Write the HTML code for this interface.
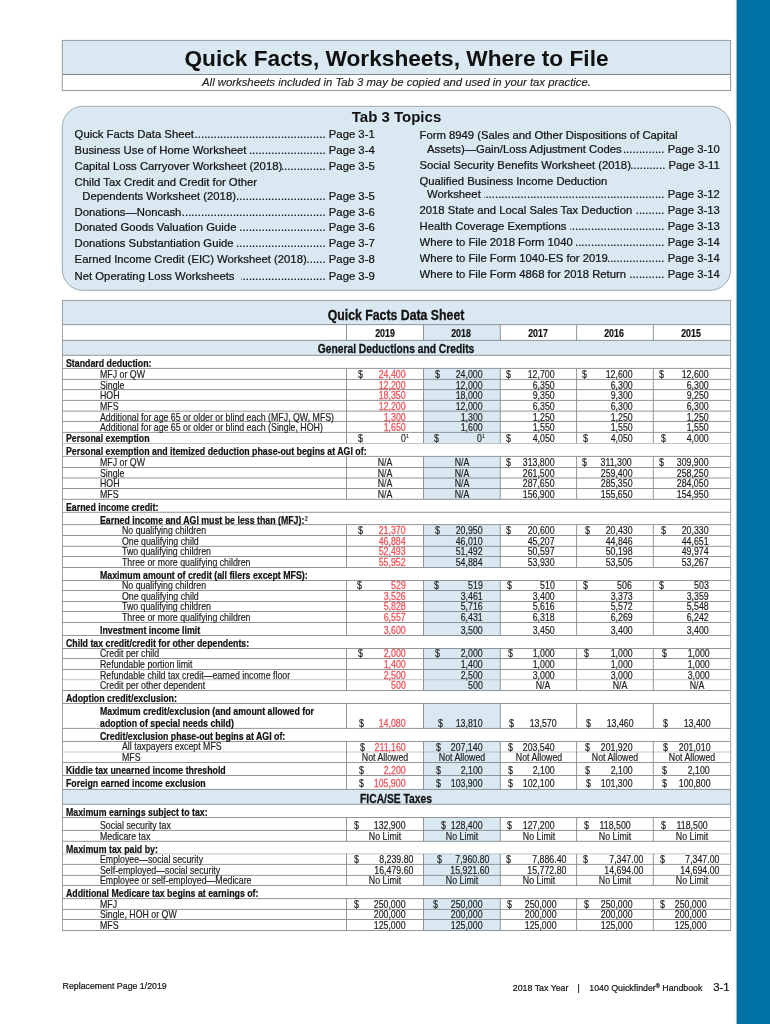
<!DOCTYPE html>
<html lang="en">
<head>
<meta charset="utf-8">
<title>Quick Facts, Worksheets, Where to File</title>
<style>
html,body{margin:0;padding:0;background:#fff;overflow:hidden;}
body{width:770px;height:1024px;position:relative;overflow:hidden;font-family:"Liberation Sans",sans-serif;color:#1a1a1a;}
svg.bg{position:absolute;left:0;top:0;}
.layer{position:absolute;left:0;top:0;width:770px;height:1024px;overflow:hidden;will-change:transform;}
.t{position:absolute;white-space:nowrap;-webkit-text-stroke:0.18px;font-size:10.67px;line-height:12px;height:12px;transform:scaleX(0.825);}
.t.l{transform-origin:0 0;}
.t.r{transform-origin:100% 0;}
.t.c{transform-origin:50% 0;width:300px;text-align:center;}
.t.b{font-weight:bold;color:#111;-webkit-text-stroke:0.22px;transform:scaleX(0.825);}
.t.h1{-webkit-text-stroke:0.3px;color:#111;font-size:14.92px;line-height:17px;height:17px;}
.t.h2{-webkit-text-stroke:0.28px;color:#111;font-size:12.48px;line-height:14px;height:14px;}
.t sup{font-size:6.5px;font-weight:normal;line-height:0;vertical-align:baseline;position:relative;top:-3.4px;margin-left:0.5px;}
.t.r sup{position:absolute;left:100%;top:auto;bottom:7.8px;font-size:5.4px;}
.title{position:absolute;left:62px;top:44px;width:669px;text-align:center;font-weight:bold;font-size:22.68px;line-height:28px;color:#111;}
.sub{-webkit-text-stroke:0.15px;position:absolute;left:62px;top:75.3px;width:669px;text-align:center;font-style:italic;font-size:11.32px;line-height:14px;color:#222;}
.tab{position:absolute;left:62px;top:107.6px;width:669px;text-align:center;font-weight:bold;font-size:15px;line-height:18px;color:#111;}
.tp{-webkit-text-stroke:0.22px;color:#111;position:absolute;display:flex;white-space:nowrap;font-size:11.3px;line-height:13px;height:13px;overflow:hidden;}
.tp .tt{flex:0 0 auto;white-space:pre;}
.tp .dots{flex:1 1 0;min-width:0;overflow:hidden;direction:rtl;text-align:right;letter-spacing:0.06px;}
.tp .pg{flex:0 0 auto;}
.ft{-webkit-text-stroke:0.2px;color:#111;position:absolute;white-space:nowrap;font-size:8.8px;line-height:11px;}
</style>
</head>
<body>
<svg class="bg" width="770" height="1024" viewBox="0 0 770 1024">
<rect x="62.3" y="40.4" width="668.3" height="34.1" fill="#d9e8f1"/>
<rect x="62.3" y="40.4" width="668.3" height="50.1" fill="none" stroke="#979b9d" stroke-width="1"/>
<line x1="62.3" y1="74.5" x2="730.6" y2="74.5" stroke="#7f888c" stroke-width="1"/>
<rect x="62.3" y="106.3" width="668.3" height="184.0" rx="20.5" ry="20.5" fill="#d9e8f1" stroke="#8a979f" stroke-width="0.8"/>
<rect x="736.7" y="0" width="34" height="1024" fill="#0073a6"/>
<line x1="736.4" y1="0" x2="736.4" y2="1024" stroke="#8f9ba2" stroke-width="0.6"/>
<rect x="62.50" y="300.40" width="668.10" height="24.20" fill="#d9e8f1"/>
<rect x="423.50" y="324.60" width="76.80" height="15.80" fill="#d9e8f1"/>
<rect x="62.50" y="340.40" width="668.10" height="14.90" fill="#d9e8f1"/>
<rect x="423.50" y="368.40" width="76.80" height="11.00" fill="#d9e8f1"/>
<rect x="423.50" y="379.40" width="76.80" height="10.20" fill="#d9e8f1"/>
<rect x="423.50" y="389.60" width="76.80" height="10.80" fill="#d9e8f1"/>
<rect x="423.50" y="400.40" width="76.80" height="10.70" fill="#d9e8f1"/>
<rect x="423.50" y="411.10" width="76.80" height="10.40" fill="#d9e8f1"/>
<rect x="423.50" y="421.50" width="76.80" height="10.90" fill="#d9e8f1"/>
<rect x="423.50" y="432.40" width="76.80" height="11.10" fill="#d9e8f1"/>
<rect x="423.50" y="456.40" width="76.80" height="11.10" fill="#d9e8f1"/>
<rect x="423.50" y="467.50" width="76.80" height="10.50" fill="#d9e8f1"/>
<rect x="423.50" y="478.00" width="76.80" height="10.50" fill="#d9e8f1"/>
<rect x="423.50" y="488.50" width="76.80" height="10.80" fill="#d9e8f1"/>
<rect x="423.50" y="524.60" width="76.80" height="10.90" fill="#d9e8f1"/>
<rect x="423.50" y="535.50" width="76.80" height="10.80" fill="#d9e8f1"/>
<rect x="423.50" y="546.30" width="76.80" height="10.20" fill="#d9e8f1"/>
<rect x="423.50" y="556.50" width="76.80" height="11.00" fill="#d9e8f1"/>
<rect x="423.50" y="580.50" width="76.80" height="10.00" fill="#d9e8f1"/>
<rect x="423.50" y="590.50" width="76.80" height="11.00" fill="#d9e8f1"/>
<rect x="423.50" y="601.50" width="76.80" height="10.00" fill="#d9e8f1"/>
<rect x="423.50" y="611.50" width="76.80" height="11.00" fill="#d9e8f1"/>
<rect x="423.50" y="622.50" width="76.80" height="13.00" fill="#d9e8f1"/>
<rect x="423.50" y="648.50" width="76.80" height="10.00" fill="#d9e8f1"/>
<rect x="423.50" y="658.50" width="76.80" height="11.00" fill="#d9e8f1"/>
<rect x="423.50" y="669.50" width="76.80" height="10.20" fill="#d9e8f1"/>
<rect x="423.50" y="679.70" width="76.80" height="10.80" fill="#d9e8f1"/>
<rect x="423.50" y="703.50" width="76.80" height="24.90" fill="#d9e8f1"/>
<rect x="423.50" y="741.50" width="76.80" height="10.50" fill="#d9e8f1"/>
<rect x="423.50" y="752.00" width="76.80" height="10.50" fill="#d9e8f1"/>
<rect x="423.50" y="762.50" width="76.80" height="13.00" fill="#d9e8f1"/>
<rect x="423.50" y="775.50" width="76.80" height="13.90" fill="#d9e8f1"/>
<rect x="62.50" y="789.40" width="668.10" height="14.90" fill="#d9e8f1"/>
<rect x="423.50" y="817.50" width="76.80" height="12.90" fill="#d9e8f1"/>
<rect x="423.50" y="830.40" width="76.80" height="10.90" fill="#d9e8f1"/>
<rect x="423.50" y="853.90" width="76.80" height="10.50" fill="#d9e8f1"/>
<rect x="423.50" y="864.40" width="76.80" height="11.00" fill="#d9e8f1"/>
<rect x="423.50" y="875.40" width="76.80" height="10.10" fill="#d9e8f1"/>
<rect x="423.50" y="898.60" width="76.80" height="10.80" fill="#d9e8f1"/>
<rect x="423.50" y="909.40" width="76.80" height="10.10" fill="#d9e8f1"/>
<rect x="423.50" y="919.50" width="76.80" height="11.00" fill="#d9e8f1"/>
<line x1="62.50" y1="324.60" x2="730.60" y2="324.60" stroke="#7d8386" stroke-width="0.85"/>
<line x1="346.50" y1="324.60" x2="346.50" y2="340.40" stroke="#7d8386" stroke-width="0.85"/>
<line x1="423.50" y1="324.60" x2="423.50" y2="340.40" stroke="#7d8386" stroke-width="0.85"/>
<line x1="500.30" y1="324.60" x2="500.30" y2="340.40" stroke="#7d8386" stroke-width="0.85"/>
<line x1="576.60" y1="324.60" x2="576.60" y2="340.40" stroke="#7d8386" stroke-width="0.85"/>
<line x1="653.30" y1="324.60" x2="653.30" y2="340.40" stroke="#7d8386" stroke-width="0.85"/>
<line x1="62.50" y1="340.40" x2="730.60" y2="340.40" stroke="#7d8386" stroke-width="0.85"/>
<line x1="62.50" y1="355.30" x2="730.60" y2="355.30" stroke="#7d8386" stroke-width="0.85"/>
<line x1="62.50" y1="368.40" x2="730.60" y2="368.40" stroke="#7d8386" stroke-width="0.85"/>
<line x1="346.50" y1="368.40" x2="346.50" y2="379.40" stroke="#7d8386" stroke-width="0.85"/>
<line x1="423.50" y1="368.40" x2="423.50" y2="379.40" stroke="#7d8386" stroke-width="0.85"/>
<line x1="500.30" y1="368.40" x2="500.30" y2="379.40" stroke="#7d8386" stroke-width="0.85"/>
<line x1="576.60" y1="368.40" x2="576.60" y2="379.40" stroke="#7d8386" stroke-width="0.85"/>
<line x1="653.30" y1="368.40" x2="653.30" y2="379.40" stroke="#7d8386" stroke-width="0.85"/>
<line x1="62.50" y1="379.40" x2="730.60" y2="379.40" stroke="#7d8386" stroke-width="0.85"/>
<line x1="346.50" y1="379.40" x2="346.50" y2="389.60" stroke="#7d8386" stroke-width="0.85"/>
<line x1="423.50" y1="379.40" x2="423.50" y2="389.60" stroke="#7d8386" stroke-width="0.85"/>
<line x1="500.30" y1="379.40" x2="500.30" y2="389.60" stroke="#7d8386" stroke-width="0.85"/>
<line x1="576.60" y1="379.40" x2="576.60" y2="389.60" stroke="#7d8386" stroke-width="0.85"/>
<line x1="653.30" y1="379.40" x2="653.30" y2="389.60" stroke="#7d8386" stroke-width="0.85"/>
<line x1="62.50" y1="389.60" x2="730.60" y2="389.60" stroke="#7d8386" stroke-width="0.85"/>
<line x1="346.50" y1="389.60" x2="346.50" y2="400.40" stroke="#7d8386" stroke-width="0.85"/>
<line x1="423.50" y1="389.60" x2="423.50" y2="400.40" stroke="#7d8386" stroke-width="0.85"/>
<line x1="500.30" y1="389.60" x2="500.30" y2="400.40" stroke="#7d8386" stroke-width="0.85"/>
<line x1="576.60" y1="389.60" x2="576.60" y2="400.40" stroke="#7d8386" stroke-width="0.85"/>
<line x1="653.30" y1="389.60" x2="653.30" y2="400.40" stroke="#7d8386" stroke-width="0.85"/>
<line x1="62.50" y1="400.40" x2="730.60" y2="400.40" stroke="#7d8386" stroke-width="0.85"/>
<line x1="346.50" y1="400.40" x2="346.50" y2="411.10" stroke="#7d8386" stroke-width="0.85"/>
<line x1="423.50" y1="400.40" x2="423.50" y2="411.10" stroke="#7d8386" stroke-width="0.85"/>
<line x1="500.30" y1="400.40" x2="500.30" y2="411.10" stroke="#7d8386" stroke-width="0.85"/>
<line x1="576.60" y1="400.40" x2="576.60" y2="411.10" stroke="#7d8386" stroke-width="0.85"/>
<line x1="653.30" y1="400.40" x2="653.30" y2="411.10" stroke="#7d8386" stroke-width="0.85"/>
<line x1="62.50" y1="411.10" x2="730.60" y2="411.10" stroke="#7d8386" stroke-width="0.85"/>
<line x1="346.50" y1="411.10" x2="346.50" y2="421.50" stroke="#7d8386" stroke-width="0.85"/>
<line x1="423.50" y1="411.10" x2="423.50" y2="421.50" stroke="#7d8386" stroke-width="0.85"/>
<line x1="500.30" y1="411.10" x2="500.30" y2="421.50" stroke="#7d8386" stroke-width="0.85"/>
<line x1="576.60" y1="411.10" x2="576.60" y2="421.50" stroke="#7d8386" stroke-width="0.85"/>
<line x1="653.30" y1="411.10" x2="653.30" y2="421.50" stroke="#7d8386" stroke-width="0.85"/>
<line x1="62.50" y1="421.50" x2="730.60" y2="421.50" stroke="#7d8386" stroke-width="0.85"/>
<line x1="346.50" y1="421.50" x2="346.50" y2="432.40" stroke="#7d8386" stroke-width="0.85"/>
<line x1="423.50" y1="421.50" x2="423.50" y2="432.40" stroke="#7d8386" stroke-width="0.85"/>
<line x1="500.30" y1="421.50" x2="500.30" y2="432.40" stroke="#7d8386" stroke-width="0.85"/>
<line x1="576.60" y1="421.50" x2="576.60" y2="432.40" stroke="#7d8386" stroke-width="0.85"/>
<line x1="653.30" y1="421.50" x2="653.30" y2="432.40" stroke="#7d8386" stroke-width="0.85"/>
<line x1="62.50" y1="432.40" x2="730.60" y2="432.40" stroke="#7d8386" stroke-width="0.85"/>
<line x1="346.50" y1="432.40" x2="346.50" y2="443.50" stroke="#7d8386" stroke-width="0.85"/>
<line x1="423.50" y1="432.40" x2="423.50" y2="443.50" stroke="#7d8386" stroke-width="0.85"/>
<line x1="500.30" y1="432.40" x2="500.30" y2="443.50" stroke="#7d8386" stroke-width="0.85"/>
<line x1="576.60" y1="432.40" x2="576.60" y2="443.50" stroke="#7d8386" stroke-width="0.85"/>
<line x1="653.30" y1="432.40" x2="653.30" y2="443.50" stroke="#7d8386" stroke-width="0.85"/>
<line x1="62.50" y1="443.50" x2="730.60" y2="443.50" stroke="#b4babd" stroke-width="0.85"/>
<line x1="62.50" y1="456.40" x2="730.60" y2="456.40" stroke="#7d8386" stroke-width="0.85"/>
<line x1="346.50" y1="456.40" x2="346.50" y2="467.50" stroke="#7d8386" stroke-width="0.85"/>
<line x1="423.50" y1="456.40" x2="423.50" y2="467.50" stroke="#7d8386" stroke-width="0.85"/>
<line x1="500.30" y1="456.40" x2="500.30" y2="467.50" stroke="#7d8386" stroke-width="0.85"/>
<line x1="576.60" y1="456.40" x2="576.60" y2="467.50" stroke="#7d8386" stroke-width="0.85"/>
<line x1="653.30" y1="456.40" x2="653.30" y2="467.50" stroke="#7d8386" stroke-width="0.85"/>
<line x1="62.50" y1="467.50" x2="730.60" y2="467.50" stroke="#7d8386" stroke-width="0.85"/>
<line x1="346.50" y1="467.50" x2="346.50" y2="478.00" stroke="#7d8386" stroke-width="0.85"/>
<line x1="423.50" y1="467.50" x2="423.50" y2="478.00" stroke="#7d8386" stroke-width="0.85"/>
<line x1="500.30" y1="467.50" x2="500.30" y2="478.00" stroke="#7d8386" stroke-width="0.85"/>
<line x1="576.60" y1="467.50" x2="576.60" y2="478.00" stroke="#7d8386" stroke-width="0.85"/>
<line x1="653.30" y1="467.50" x2="653.30" y2="478.00" stroke="#7d8386" stroke-width="0.85"/>
<line x1="62.50" y1="478.00" x2="730.60" y2="478.00" stroke="#7d8386" stroke-width="0.85"/>
<line x1="346.50" y1="478.00" x2="346.50" y2="488.50" stroke="#7d8386" stroke-width="0.85"/>
<line x1="423.50" y1="478.00" x2="423.50" y2="488.50" stroke="#7d8386" stroke-width="0.85"/>
<line x1="500.30" y1="478.00" x2="500.30" y2="488.50" stroke="#7d8386" stroke-width="0.85"/>
<line x1="576.60" y1="478.00" x2="576.60" y2="488.50" stroke="#7d8386" stroke-width="0.85"/>
<line x1="653.30" y1="478.00" x2="653.30" y2="488.50" stroke="#7d8386" stroke-width="0.85"/>
<line x1="62.50" y1="488.50" x2="730.60" y2="488.50" stroke="#7d8386" stroke-width="0.85"/>
<line x1="346.50" y1="488.50" x2="346.50" y2="499.30" stroke="#7d8386" stroke-width="0.85"/>
<line x1="423.50" y1="488.50" x2="423.50" y2="499.30" stroke="#7d8386" stroke-width="0.85"/>
<line x1="500.30" y1="488.50" x2="500.30" y2="499.30" stroke="#7d8386" stroke-width="0.85"/>
<line x1="576.60" y1="488.50" x2="576.60" y2="499.30" stroke="#7d8386" stroke-width="0.85"/>
<line x1="653.30" y1="488.50" x2="653.30" y2="499.30" stroke="#7d8386" stroke-width="0.85"/>
<line x1="62.50" y1="499.30" x2="730.60" y2="499.30" stroke="#7d8386" stroke-width="0.85"/>
<line x1="62.50" y1="512.30" x2="730.60" y2="512.30" stroke="#7d8386" stroke-width="0.85"/>
<line x1="62.50" y1="524.60" x2="730.60" y2="524.60" stroke="#7d8386" stroke-width="0.85"/>
<line x1="346.50" y1="524.60" x2="346.50" y2="535.50" stroke="#7d8386" stroke-width="0.85"/>
<line x1="423.50" y1="524.60" x2="423.50" y2="535.50" stroke="#7d8386" stroke-width="0.85"/>
<line x1="500.30" y1="524.60" x2="500.30" y2="535.50" stroke="#7d8386" stroke-width="0.85"/>
<line x1="576.60" y1="524.60" x2="576.60" y2="535.50" stroke="#7d8386" stroke-width="0.85"/>
<line x1="653.30" y1="524.60" x2="653.30" y2="535.50" stroke="#7d8386" stroke-width="0.85"/>
<line x1="62.50" y1="535.50" x2="730.60" y2="535.50" stroke="#7d8386" stroke-width="0.85"/>
<line x1="346.50" y1="535.50" x2="346.50" y2="546.30" stroke="#7d8386" stroke-width="0.85"/>
<line x1="423.50" y1="535.50" x2="423.50" y2="546.30" stroke="#7d8386" stroke-width="0.85"/>
<line x1="500.30" y1="535.50" x2="500.30" y2="546.30" stroke="#7d8386" stroke-width="0.85"/>
<line x1="576.60" y1="535.50" x2="576.60" y2="546.30" stroke="#7d8386" stroke-width="0.85"/>
<line x1="653.30" y1="535.50" x2="653.30" y2="546.30" stroke="#7d8386" stroke-width="0.85"/>
<line x1="62.50" y1="546.30" x2="730.60" y2="546.30" stroke="#7d8386" stroke-width="0.85"/>
<line x1="346.50" y1="546.30" x2="346.50" y2="556.50" stroke="#7d8386" stroke-width="0.85"/>
<line x1="423.50" y1="546.30" x2="423.50" y2="556.50" stroke="#7d8386" stroke-width="0.85"/>
<line x1="500.30" y1="546.30" x2="500.30" y2="556.50" stroke="#7d8386" stroke-width="0.85"/>
<line x1="576.60" y1="546.30" x2="576.60" y2="556.50" stroke="#7d8386" stroke-width="0.85"/>
<line x1="653.30" y1="546.30" x2="653.30" y2="556.50" stroke="#7d8386" stroke-width="0.85"/>
<line x1="62.50" y1="556.50" x2="730.60" y2="556.50" stroke="#7d8386" stroke-width="0.85"/>
<line x1="346.50" y1="556.50" x2="346.50" y2="567.50" stroke="#7d8386" stroke-width="0.85"/>
<line x1="423.50" y1="556.50" x2="423.50" y2="567.50" stroke="#7d8386" stroke-width="0.85"/>
<line x1="500.30" y1="556.50" x2="500.30" y2="567.50" stroke="#7d8386" stroke-width="0.85"/>
<line x1="576.60" y1="556.50" x2="576.60" y2="567.50" stroke="#7d8386" stroke-width="0.85"/>
<line x1="653.30" y1="556.50" x2="653.30" y2="567.50" stroke="#7d8386" stroke-width="0.85"/>
<line x1="62.50" y1="567.50" x2="730.60" y2="567.50" stroke="#7d8386" stroke-width="0.85"/>
<line x1="62.50" y1="580.50" x2="730.60" y2="580.50" stroke="#7d8386" stroke-width="0.85"/>
<line x1="346.50" y1="580.50" x2="346.50" y2="590.50" stroke="#7d8386" stroke-width="0.85"/>
<line x1="423.50" y1="580.50" x2="423.50" y2="590.50" stroke="#7d8386" stroke-width="0.85"/>
<line x1="500.30" y1="580.50" x2="500.30" y2="590.50" stroke="#7d8386" stroke-width="0.85"/>
<line x1="576.60" y1="580.50" x2="576.60" y2="590.50" stroke="#7d8386" stroke-width="0.85"/>
<line x1="653.30" y1="580.50" x2="653.30" y2="590.50" stroke="#7d8386" stroke-width="0.85"/>
<line x1="62.50" y1="590.50" x2="730.60" y2="590.50" stroke="#7d8386" stroke-width="0.85"/>
<line x1="346.50" y1="590.50" x2="346.50" y2="601.50" stroke="#7d8386" stroke-width="0.85"/>
<line x1="423.50" y1="590.50" x2="423.50" y2="601.50" stroke="#7d8386" stroke-width="0.85"/>
<line x1="500.30" y1="590.50" x2="500.30" y2="601.50" stroke="#7d8386" stroke-width="0.85"/>
<line x1="576.60" y1="590.50" x2="576.60" y2="601.50" stroke="#7d8386" stroke-width="0.85"/>
<line x1="653.30" y1="590.50" x2="653.30" y2="601.50" stroke="#7d8386" stroke-width="0.85"/>
<line x1="62.50" y1="601.50" x2="730.60" y2="601.50" stroke="#7d8386" stroke-width="0.85"/>
<line x1="346.50" y1="601.50" x2="346.50" y2="611.50" stroke="#7d8386" stroke-width="0.85"/>
<line x1="423.50" y1="601.50" x2="423.50" y2="611.50" stroke="#7d8386" stroke-width="0.85"/>
<line x1="500.30" y1="601.50" x2="500.30" y2="611.50" stroke="#7d8386" stroke-width="0.85"/>
<line x1="576.60" y1="601.50" x2="576.60" y2="611.50" stroke="#7d8386" stroke-width="0.85"/>
<line x1="653.30" y1="601.50" x2="653.30" y2="611.50" stroke="#7d8386" stroke-width="0.85"/>
<line x1="62.50" y1="611.50" x2="730.60" y2="611.50" stroke="#7d8386" stroke-width="0.85"/>
<line x1="346.50" y1="611.50" x2="346.50" y2="622.50" stroke="#7d8386" stroke-width="0.85"/>
<line x1="423.50" y1="611.50" x2="423.50" y2="622.50" stroke="#7d8386" stroke-width="0.85"/>
<line x1="500.30" y1="611.50" x2="500.30" y2="622.50" stroke="#7d8386" stroke-width="0.85"/>
<line x1="576.60" y1="611.50" x2="576.60" y2="622.50" stroke="#7d8386" stroke-width="0.85"/>
<line x1="653.30" y1="611.50" x2="653.30" y2="622.50" stroke="#7d8386" stroke-width="0.85"/>
<line x1="62.50" y1="622.50" x2="730.60" y2="622.50" stroke="#7d8386" stroke-width="0.85"/>
<line x1="346.50" y1="622.50" x2="346.50" y2="635.50" stroke="#7d8386" stroke-width="0.85"/>
<line x1="423.50" y1="622.50" x2="423.50" y2="635.50" stroke="#7d8386" stroke-width="0.85"/>
<line x1="500.30" y1="622.50" x2="500.30" y2="635.50" stroke="#7d8386" stroke-width="0.85"/>
<line x1="576.60" y1="622.50" x2="576.60" y2="635.50" stroke="#7d8386" stroke-width="0.85"/>
<line x1="653.30" y1="622.50" x2="653.30" y2="635.50" stroke="#7d8386" stroke-width="0.85"/>
<line x1="62.50" y1="635.50" x2="730.60" y2="635.50" stroke="#7d8386" stroke-width="0.85"/>
<line x1="62.50" y1="648.50" x2="730.60" y2="648.50" stroke="#7d8386" stroke-width="0.85"/>
<line x1="346.50" y1="648.50" x2="346.50" y2="658.50" stroke="#7d8386" stroke-width="0.85"/>
<line x1="423.50" y1="648.50" x2="423.50" y2="658.50" stroke="#7d8386" stroke-width="0.85"/>
<line x1="500.30" y1="648.50" x2="500.30" y2="658.50" stroke="#7d8386" stroke-width="0.85"/>
<line x1="576.60" y1="648.50" x2="576.60" y2="658.50" stroke="#7d8386" stroke-width="0.85"/>
<line x1="653.30" y1="648.50" x2="653.30" y2="658.50" stroke="#7d8386" stroke-width="0.85"/>
<line x1="62.50" y1="658.50" x2="730.60" y2="658.50" stroke="#7d8386" stroke-width="0.85"/>
<line x1="346.50" y1="658.50" x2="346.50" y2="669.50" stroke="#7d8386" stroke-width="0.85"/>
<line x1="423.50" y1="658.50" x2="423.50" y2="669.50" stroke="#7d8386" stroke-width="0.85"/>
<line x1="500.30" y1="658.50" x2="500.30" y2="669.50" stroke="#7d8386" stroke-width="0.85"/>
<line x1="576.60" y1="658.50" x2="576.60" y2="669.50" stroke="#7d8386" stroke-width="0.85"/>
<line x1="653.30" y1="658.50" x2="653.30" y2="669.50" stroke="#7d8386" stroke-width="0.85"/>
<line x1="62.50" y1="669.50" x2="730.60" y2="669.50" stroke="#7d8386" stroke-width="0.85"/>
<line x1="346.50" y1="669.50" x2="346.50" y2="679.70" stroke="#7d8386" stroke-width="0.85"/>
<line x1="423.50" y1="669.50" x2="423.50" y2="679.70" stroke="#7d8386" stroke-width="0.85"/>
<line x1="500.30" y1="669.50" x2="500.30" y2="679.70" stroke="#7d8386" stroke-width="0.85"/>
<line x1="576.60" y1="669.50" x2="576.60" y2="679.70" stroke="#7d8386" stroke-width="0.85"/>
<line x1="653.30" y1="669.50" x2="653.30" y2="679.70" stroke="#7d8386" stroke-width="0.85"/>
<line x1="62.50" y1="679.70" x2="730.60" y2="679.70" stroke="#b4babd" stroke-width="0.85"/>
<line x1="346.50" y1="679.70" x2="346.50" y2="690.50" stroke="#7d8386" stroke-width="0.85"/>
<line x1="423.50" y1="679.70" x2="423.50" y2="690.50" stroke="#7d8386" stroke-width="0.85"/>
<line x1="500.30" y1="679.70" x2="500.30" y2="690.50" stroke="#7d8386" stroke-width="0.85"/>
<line x1="576.60" y1="679.70" x2="576.60" y2="690.50" stroke="#7d8386" stroke-width="0.85"/>
<line x1="653.30" y1="679.70" x2="653.30" y2="690.50" stroke="#7d8386" stroke-width="0.85"/>
<line x1="62.50" y1="690.50" x2="730.60" y2="690.50" stroke="#7d8386" stroke-width="0.85"/>
<line x1="62.50" y1="703.50" x2="730.60" y2="703.50" stroke="#7d8386" stroke-width="0.85"/>
<line x1="346.50" y1="703.50" x2="346.50" y2="728.40" stroke="#7d8386" stroke-width="0.85"/>
<line x1="423.50" y1="703.50" x2="423.50" y2="728.40" stroke="#7d8386" stroke-width="0.85"/>
<line x1="500.30" y1="703.50" x2="500.30" y2="728.40" stroke="#7d8386" stroke-width="0.85"/>
<line x1="576.60" y1="703.50" x2="576.60" y2="728.40" stroke="#7d8386" stroke-width="0.85"/>
<line x1="653.30" y1="703.50" x2="653.30" y2="728.40" stroke="#7d8386" stroke-width="0.85"/>
<line x1="62.50" y1="728.40" x2="730.60" y2="728.40" stroke="#7d8386" stroke-width="0.85"/>
<line x1="62.50" y1="741.50" x2="730.60" y2="741.50" stroke="#7d8386" stroke-width="0.85"/>
<line x1="346.50" y1="741.50" x2="346.50" y2="752.00" stroke="#7d8386" stroke-width="0.85"/>
<line x1="423.50" y1="741.50" x2="423.50" y2="752.00" stroke="#7d8386" stroke-width="0.85"/>
<line x1="500.30" y1="741.50" x2="500.30" y2="752.00" stroke="#7d8386" stroke-width="0.85"/>
<line x1="576.60" y1="741.50" x2="576.60" y2="752.00" stroke="#7d8386" stroke-width="0.85"/>
<line x1="653.30" y1="741.50" x2="653.30" y2="752.00" stroke="#7d8386" stroke-width="0.85"/>
<line x1="62.50" y1="752.00" x2="730.60" y2="752.00" stroke="#b4babd" stroke-width="0.85"/>
<line x1="346.50" y1="752.00" x2="346.50" y2="762.50" stroke="#7d8386" stroke-width="0.85"/>
<line x1="423.50" y1="752.00" x2="423.50" y2="762.50" stroke="#7d8386" stroke-width="0.85"/>
<line x1="500.30" y1="752.00" x2="500.30" y2="762.50" stroke="#7d8386" stroke-width="0.85"/>
<line x1="576.60" y1="752.00" x2="576.60" y2="762.50" stroke="#7d8386" stroke-width="0.85"/>
<line x1="653.30" y1="752.00" x2="653.30" y2="762.50" stroke="#7d8386" stroke-width="0.85"/>
<line x1="62.50" y1="762.50" x2="730.60" y2="762.50" stroke="#7d8386" stroke-width="0.85"/>
<line x1="346.50" y1="762.50" x2="346.50" y2="775.50" stroke="#7d8386" stroke-width="0.85"/>
<line x1="423.50" y1="762.50" x2="423.50" y2="775.50" stroke="#7d8386" stroke-width="0.85"/>
<line x1="500.30" y1="762.50" x2="500.30" y2="775.50" stroke="#7d8386" stroke-width="0.85"/>
<line x1="576.60" y1="762.50" x2="576.60" y2="775.50" stroke="#7d8386" stroke-width="0.85"/>
<line x1="653.30" y1="762.50" x2="653.30" y2="775.50" stroke="#7d8386" stroke-width="0.85"/>
<line x1="62.50" y1="775.50" x2="730.60" y2="775.50" stroke="#7d8386" stroke-width="0.85"/>
<line x1="346.50" y1="775.50" x2="346.50" y2="789.40" stroke="#7d8386" stroke-width="0.85"/>
<line x1="423.50" y1="775.50" x2="423.50" y2="789.40" stroke="#7d8386" stroke-width="0.85"/>
<line x1="500.30" y1="775.50" x2="500.30" y2="789.40" stroke="#7d8386" stroke-width="0.85"/>
<line x1="576.60" y1="775.50" x2="576.60" y2="789.40" stroke="#7d8386" stroke-width="0.85"/>
<line x1="653.30" y1="775.50" x2="653.30" y2="789.40" stroke="#7d8386" stroke-width="0.85"/>
<line x1="62.50" y1="789.40" x2="730.60" y2="789.40" stroke="#7d8386" stroke-width="0.85"/>
<line x1="62.50" y1="804.30" x2="730.60" y2="804.30" stroke="#7d8386" stroke-width="0.85"/>
<line x1="62.50" y1="817.50" x2="730.60" y2="817.50" stroke="#7d8386" stroke-width="0.85"/>
<line x1="346.50" y1="817.50" x2="346.50" y2="830.40" stroke="#7d8386" stroke-width="0.85"/>
<line x1="423.50" y1="817.50" x2="423.50" y2="830.40" stroke="#7d8386" stroke-width="0.85"/>
<line x1="500.30" y1="817.50" x2="500.30" y2="830.40" stroke="#7d8386" stroke-width="0.85"/>
<line x1="576.60" y1="817.50" x2="576.60" y2="830.40" stroke="#7d8386" stroke-width="0.85"/>
<line x1="653.30" y1="817.50" x2="653.30" y2="830.40" stroke="#7d8386" stroke-width="0.85"/>
<line x1="62.50" y1="830.40" x2="730.60" y2="830.40" stroke="#7d8386" stroke-width="0.85"/>
<line x1="346.50" y1="830.40" x2="346.50" y2="841.30" stroke="#7d8386" stroke-width="0.85"/>
<line x1="423.50" y1="830.40" x2="423.50" y2="841.30" stroke="#7d8386" stroke-width="0.85"/>
<line x1="500.30" y1="830.40" x2="500.30" y2="841.30" stroke="#7d8386" stroke-width="0.85"/>
<line x1="576.60" y1="830.40" x2="576.60" y2="841.30" stroke="#7d8386" stroke-width="0.85"/>
<line x1="653.30" y1="830.40" x2="653.30" y2="841.30" stroke="#7d8386" stroke-width="0.85"/>
<line x1="62.50" y1="841.30" x2="730.60" y2="841.30" stroke="#7d8386" stroke-width="0.85"/>
<line x1="62.50" y1="853.90" x2="730.60" y2="853.90" stroke="#b4babd" stroke-width="0.85"/>
<line x1="346.50" y1="853.90" x2="346.50" y2="864.40" stroke="#7d8386" stroke-width="0.85"/>
<line x1="423.50" y1="853.90" x2="423.50" y2="864.40" stroke="#7d8386" stroke-width="0.85"/>
<line x1="500.30" y1="853.90" x2="500.30" y2="864.40" stroke="#7d8386" stroke-width="0.85"/>
<line x1="576.60" y1="853.90" x2="576.60" y2="864.40" stroke="#7d8386" stroke-width="0.85"/>
<line x1="653.30" y1="853.90" x2="653.30" y2="864.40" stroke="#7d8386" stroke-width="0.85"/>
<line x1="62.50" y1="864.40" x2="730.60" y2="864.40" stroke="#7d8386" stroke-width="0.85"/>
<line x1="346.50" y1="864.40" x2="346.50" y2="875.40" stroke="#7d8386" stroke-width="0.85"/>
<line x1="423.50" y1="864.40" x2="423.50" y2="875.40" stroke="#7d8386" stroke-width="0.85"/>
<line x1="500.30" y1="864.40" x2="500.30" y2="875.40" stroke="#7d8386" stroke-width="0.85"/>
<line x1="576.60" y1="864.40" x2="576.60" y2="875.40" stroke="#7d8386" stroke-width="0.85"/>
<line x1="653.30" y1="864.40" x2="653.30" y2="875.40" stroke="#7d8386" stroke-width="0.85"/>
<line x1="62.50" y1="875.40" x2="730.60" y2="875.40" stroke="#7d8386" stroke-width="0.85"/>
<line x1="346.50" y1="875.40" x2="346.50" y2="885.50" stroke="#7d8386" stroke-width="0.85"/>
<line x1="423.50" y1="875.40" x2="423.50" y2="885.50" stroke="#7d8386" stroke-width="0.85"/>
<line x1="500.30" y1="875.40" x2="500.30" y2="885.50" stroke="#7d8386" stroke-width="0.85"/>
<line x1="576.60" y1="875.40" x2="576.60" y2="885.50" stroke="#7d8386" stroke-width="0.85"/>
<line x1="653.30" y1="875.40" x2="653.30" y2="885.50" stroke="#7d8386" stroke-width="0.85"/>
<line x1="62.50" y1="885.50" x2="730.60" y2="885.50" stroke="#7d8386" stroke-width="0.85"/>
<line x1="62.50" y1="898.60" x2="730.60" y2="898.60" stroke="#7d8386" stroke-width="0.85"/>
<line x1="346.50" y1="898.60" x2="346.50" y2="909.40" stroke="#7d8386" stroke-width="0.85"/>
<line x1="423.50" y1="898.60" x2="423.50" y2="909.40" stroke="#7d8386" stroke-width="0.85"/>
<line x1="500.30" y1="898.60" x2="500.30" y2="909.40" stroke="#7d8386" stroke-width="0.85"/>
<line x1="576.60" y1="898.60" x2="576.60" y2="909.40" stroke="#7d8386" stroke-width="0.85"/>
<line x1="653.30" y1="898.60" x2="653.30" y2="909.40" stroke="#7d8386" stroke-width="0.85"/>
<line x1="62.50" y1="909.40" x2="730.60" y2="909.40" stroke="#7d8386" stroke-width="0.85"/>
<line x1="346.50" y1="909.40" x2="346.50" y2="919.50" stroke="#7d8386" stroke-width="0.85"/>
<line x1="423.50" y1="909.40" x2="423.50" y2="919.50" stroke="#7d8386" stroke-width="0.85"/>
<line x1="500.30" y1="909.40" x2="500.30" y2="919.50" stroke="#7d8386" stroke-width="0.85"/>
<line x1="576.60" y1="909.40" x2="576.60" y2="919.50" stroke="#7d8386" stroke-width="0.85"/>
<line x1="653.30" y1="909.40" x2="653.30" y2="919.50" stroke="#7d8386" stroke-width="0.85"/>
<line x1="62.50" y1="919.50" x2="730.60" y2="919.50" stroke="#7d8386" stroke-width="0.85"/>
<line x1="346.50" y1="919.50" x2="346.50" y2="930.50" stroke="#7d8386" stroke-width="0.85"/>
<line x1="423.50" y1="919.50" x2="423.50" y2="930.50" stroke="#7d8386" stroke-width="0.85"/>
<line x1="500.30" y1="919.50" x2="500.30" y2="930.50" stroke="#7d8386" stroke-width="0.85"/>
<line x1="576.60" y1="919.50" x2="576.60" y2="930.50" stroke="#7d8386" stroke-width="0.85"/>
<line x1="653.30" y1="919.50" x2="653.30" y2="930.50" stroke="#7d8386" stroke-width="0.85"/>
<line x1="62.50" y1="930.50" x2="730.60" y2="930.50" stroke="#7d8386" stroke-width="0.85"/>
<line x1="62.50" y1="300.40" x2="730.60" y2="300.40" stroke="#8f9497" stroke-width="0.85"/>
<line x1="62.50" y1="299.90" x2="62.50" y2="931.00" stroke="#8f9497" stroke-width="0.85"/>
<line x1="730.60" y1="299.90" x2="730.60" y2="931.00" stroke="#8f9497" stroke-width="0.85"/>
</svg>
<div class="layer">
<div class="title">Quick Facts, Worksheets, Where to File</div>
<div class="sub">All worksheets included in Tab 3 may be copied and used in your tax practice.</div>
<div class="tab">Tab 3 Topics</div>
<div class="tp" style="left:74.60px;top:128.00px;width:300.10px"><span class="tt">Quick Facts Data Sheet</span><span class="dots">..........................................................................................</span><span class="pg">&nbsp;Page 3-1</span></div>
<div class="tp" style="left:74.60px;top:144.00px;width:300.10px"><span class="tt">Business Use of Home Worksheet </span><span class="dots">..........................................................................................</span><span class="pg">&nbsp;Page 3-4</span></div>
<div class="tp" style="left:74.60px;top:160.00px;width:300.10px"><span class="tt">Capital Loss Carryover Worksheet (2018)</span><span class="dots">..........................................................................................</span><span class="pg">&nbsp;Page 3-5</span></div>
<div class="tp" style="left:74.60px;top:176.00px;width:300.10px"><span class="tt">Child Tax Credit and Credit for Other</span></div>
<div class="tp" style="left:82.30px;top:190.00px;width:292.40px"><span class="tt">Dependents Worksheet (2018)</span><span class="dots">..........................................................................................</span><span class="pg">&nbsp;Page 3-5</span></div>
<div class="tp" style="left:74.60px;top:206.00px;width:300.10px"><span class="tt">Donations—Noncash</span><span class="dots">..........................................................................................</span><span class="pg">&nbsp;Page 3-6</span></div>
<div class="tp" style="left:74.60px;top:221.00px;width:300.10px"><span class="tt">Donated Goods Valuation Guide </span><span class="dots">..........................................................................................</span><span class="pg">&nbsp;Page 3-6</span></div>
<div class="tp" style="left:74.60px;top:237.00px;width:300.10px"><span class="tt">Donations Substantiation Guide </span><span class="dots">..........................................................................................</span><span class="pg">&nbsp;Page 3-7</span></div>
<div class="tp" style="left:74.60px;top:253.00px;width:300.10px"><span class="tt">Earned Income Credit (EIC) Worksheet (2018)</span><span class="dots">..........................................................................................</span><span class="pg">&nbsp;Page 3-8</span></div>
<div class="tp" style="left:74.60px;top:270.00px;width:300.10px"><span class="tt">Net Operating Loss Worksheets  </span><span class="dots">..........................................................................................</span><span class="pg">&nbsp;Page 3-9</span></div>
<div class="tp" style="left:419.50px;top:129.00px;width:300.30px"><span class="tt">Form 8949 (Sales and Other Dispositions of Capital</span></div>
<div class="tp" style="left:427.00px;top:143.00px;width:292.80px"><span class="tt">Assets)—Gain/Loss Adjustment Codes</span><span class="dots">..........................................................................................</span><span class="pg">&nbsp;Page 3-10</span></div>
<div class="tp" style="left:419.50px;top:159.00px;width:300.30px"><span class="tt">Social Security Benefits Worksheet (2018)</span><span class="dots">..........................................................................................</span><span class="pg">&nbsp;Page 3-11</span></div>
<div class="tp" style="left:419.50px;top:175.00px;width:300.30px"><span class="tt">Qualified Business Income Deduction</span></div>
<div class="tp" style="left:427.00px;top:188.00px;width:292.80px"><span class="tt">Worksheet </span><span class="dots">..........................................................................................</span><span class="pg">&nbsp;Page 3-12</span></div>
<div class="tp" style="left:419.50px;top:204.00px;width:300.30px"><span class="tt">2018 State and Local Sales Tax Deduction </span><span class="dots">..........................................................................................</span><span class="pg">&nbsp;Page 3-13</span></div>
<div class="tp" style="left:419.50px;top:220.00px;width:300.30px"><span class="tt">Health Coverage Exemptions </span><span class="dots">..........................................................................................</span><span class="pg">&nbsp;Page 3-13</span></div>
<div class="tp" style="left:419.50px;top:236.00px;width:300.30px"><span class="tt">Where to File 2018 Form 1040 </span><span class="dots">..........................................................................................</span><span class="pg">&nbsp;Page 3-14</span></div>
<div class="tp" style="left:419.50px;top:252.00px;width:300.30px"><span class="tt">Where to File Form 1040-ES for 2019</span><span class="dots">..........................................................................................</span><span class="pg">&nbsp;Page 3-14</span></div>
<div class="tp" style="left:419.50px;top:268.00px;width:300.30px"><span class="tt">Where to File Form 4868 for 2018 Return </span><span class="dots">..........................................................................................</span><span class="pg">&nbsp;Page 3-14</span></div>
<span class="t c b h1" style="left:246.15px;top:306px;">Quick Facts Data Sheet</span>
<span class="t c b" style="left:234.50px;top:327px;">2019</span>
<span class="t c b" style="left:311.40px;top:327px;">2018</span>
<span class="t c b" style="left:387.95px;top:327px;">2017</span>
<span class="t c b" style="left:464.45px;top:327px;">2016</span>
<span class="t c b" style="left:541.45px;top:327px;">2015</span>
<span class="t c b h2" style="left:245.95px;top:342px;">General Deductions and Credits</span>
<span class="t l b" style="left:66.10px;top:357px;">Standard deduction:</span>
<span class="t l " style="left:100.10px;top:368px;">MFJ or QW</span>
<span class="t r " style="right:364.30px;top:368px;color:#f0545a;-webkit-text-stroke-width:0.3px;">24,400</span>
<span class="t l " style="left:357.90px;top:368px;">$</span>
<span class="t r " style="right:287.70px;top:368px;">24,000</span>
<span class="t l " style="left:434.60px;top:368px;">$</span>
<span class="t r " style="right:215.00px;top:368px;">12,700</span>
<span class="t l " style="left:505.80px;top:368px;">$</span>
<span class="t r " style="right:137.80px;top:368px;">12,600</span>
<span class="t l " style="left:582.40px;top:368px;">$</span>
<span class="t r " style="right:61.20px;top:368px;">12,600</span>
<span class="t l " style="left:658.80px;top:368px;">$</span>
<span class="t l " style="left:100.10px;top:379px;">Single</span>
<span class="t r " style="right:364.30px;top:379px;color:#f0545a;-webkit-text-stroke-width:0.3px;">12,200</span>
<span class="t r " style="right:287.70px;top:379px;">12,000</span>
<span class="t r " style="right:215.00px;top:379px;">6,350</span>
<span class="t r " style="right:137.80px;top:379px;">6,300</span>
<span class="t r " style="right:61.20px;top:379px;">6,300</span>
<span class="t l " style="left:100.10px;top:389px;">HOH</span>
<span class="t r " style="right:364.30px;top:389px;color:#f0545a;-webkit-text-stroke-width:0.3px;">18,350</span>
<span class="t r " style="right:287.70px;top:389px;">18,000</span>
<span class="t r " style="right:215.00px;top:389px;">9,350</span>
<span class="t r " style="right:137.80px;top:389px;">9,300</span>
<span class="t r " style="right:61.20px;top:389px;">9,250</span>
<span class="t l " style="left:100.10px;top:400px;">MFS</span>
<span class="t r " style="right:364.30px;top:400px;color:#f0545a;-webkit-text-stroke-width:0.3px;">12,200</span>
<span class="t r " style="right:287.70px;top:400px;">12,000</span>
<span class="t r " style="right:215.00px;top:400px;">6,350</span>
<span class="t r " style="right:137.80px;top:400px;">6,300</span>
<span class="t r " style="right:61.20px;top:400px;">6,300</span>
<span class="t l " style="left:100.10px;top:411px;">Additional for age 65 or older or blind each (MFJ, QW, MFS)</span>
<span class="t r " style="right:364.30px;top:411px;color:#f0545a;-webkit-text-stroke-width:0.3px;">1,300</span>
<span class="t r " style="right:287.70px;top:411px;">1,300</span>
<span class="t r " style="right:215.00px;top:411px;">1,250</span>
<span class="t r " style="right:137.80px;top:411px;">1,250</span>
<span class="t r " style="right:61.20px;top:411px;">1,250</span>
<span class="t l " style="left:100.10px;top:421px;">Additional for age 65 or older or blind each (Single, HOH)</span>
<span class="t r " style="right:364.30px;top:421px;color:#f0545a;-webkit-text-stroke-width:0.3px;">1,650</span>
<span class="t r " style="right:287.70px;top:421px;">1,600</span>
<span class="t r " style="right:215.00px;top:421px;">1,550</span>
<span class="t r " style="right:137.80px;top:421px;">1,550</span>
<span class="t r " style="right:61.20px;top:421px;">1,550</span>
<span class="t l b" style="left:66.10px;top:432px;">Personal exemption</span>
<span class="t r " style="right:364.30px;top:432px;">0<sup>1</sup></span>
<span class="t l " style="left:357.70px;top:432px;">$</span>
<span class="t r " style="right:287.70px;top:432px;">0<sup>1</sup></span>
<span class="t l " style="left:434.30px;top:432px;">$</span>
<span class="t r " style="right:215.00px;top:432px;">4,050</span>
<span class="t l " style="left:505.80px;top:432px;">$</span>
<span class="t r " style="right:137.80px;top:432px;">4,050</span>
<span class="t l " style="left:583.00px;top:432px;">$</span>
<span class="t r " style="right:61.20px;top:432px;">4,000</span>
<span class="t l " style="left:661.00px;top:432px;">$</span>
<span class="t l b" style="left:66.10px;top:445px;">Personal exemption and itemized deduction phase-out begins at AGI of:</span>
<span class="t l " style="left:100.10px;top:456px;">MFJ or QW</span>
<span class="t c " style="left:235.30px;top:456px;">N/A</span>
<span class="t c " style="left:312.20px;top:456px;">N/A</span>
<span class="t r " style="right:215.00px;top:456px;">313,800</span>
<span class="t l " style="left:505.80px;top:456px;">$</span>
<span class="t r " style="right:137.80px;top:456px;">311,300</span>
<span class="t l " style="left:582.40px;top:456px;">$</span>
<span class="t r " style="right:61.20px;top:456px;">309,900</span>
<span class="t l " style="left:658.80px;top:456px;">$</span>
<span class="t l " style="left:100.10px;top:467px;">Single</span>
<span class="t c " style="left:235.30px;top:467px;">N/A</span>
<span class="t c " style="left:312.20px;top:467px;">N/A</span>
<span class="t r " style="right:215.00px;top:467px;">261,500</span>
<span class="t r " style="right:137.80px;top:467px;">259,400</span>
<span class="t r " style="right:61.20px;top:467px;">258,250</span>
<span class="t l " style="left:100.10px;top:477px;">HOH</span>
<span class="t c " style="left:235.30px;top:477px;">N/A</span>
<span class="t c " style="left:312.20px;top:477px;">N/A</span>
<span class="t r " style="right:215.00px;top:477px;">287,650</span>
<span class="t r " style="right:137.80px;top:477px;">285,350</span>
<span class="t r " style="right:61.20px;top:477px;">284,050</span>
<span class="t l " style="left:100.10px;top:488px;">MFS</span>
<span class="t c " style="left:235.30px;top:488px;">N/A</span>
<span class="t c " style="left:312.20px;top:488px;">N/A</span>
<span class="t r " style="right:215.00px;top:488px;">156,900</span>
<span class="t r " style="right:137.80px;top:488px;">155,650</span>
<span class="t r " style="right:61.20px;top:488px;">154,950</span>
<span class="t l b" style="left:66.10px;top:501px;">Earned income credit:</span>
<span class="t l b" style="left:100.10px;top:514px;">Earned income and AGI must be less than (MFJ):<sup>2</sup></span>
<span class="t l " style="left:122.40px;top:524px;">No qualifying children</span>
<span class="t r " style="right:364.30px;top:524px;color:#f0545a;-webkit-text-stroke-width:0.3px;">21,370</span>
<span class="t l " style="left:358.00px;top:524px;">$</span>
<span class="t r " style="right:287.70px;top:524px;">20,950</span>
<span class="t l " style="left:434.80px;top:524px;">$</span>
<span class="t r " style="right:215.00px;top:524px;">20,600</span>
<span class="t l " style="left:506.20px;top:524px;">$</span>
<span class="t r " style="right:137.80px;top:524px;">20,430</span>
<span class="t l " style="left:584.70px;top:524px;">$</span>
<span class="t r " style="right:61.20px;top:524px;">20,330</span>
<span class="t l " style="left:661.30px;top:524px;">$</span>
<span class="t l " style="left:122.40px;top:535px;">One qualifying child</span>
<span class="t r " style="right:364.30px;top:535px;color:#f0545a;-webkit-text-stroke-width:0.3px;">46,884</span>
<span class="t r " style="right:287.70px;top:535px;">46,010</span>
<span class="t r " style="right:215.00px;top:535px;">45,207</span>
<span class="t r " style="right:137.80px;top:535px;">44,846</span>
<span class="t r " style="right:61.20px;top:535px;">44,651</span>
<span class="t l " style="left:122.40px;top:545px;">Two qualifying children</span>
<span class="t r " style="right:364.30px;top:545px;color:#f0545a;-webkit-text-stroke-width:0.3px;">52,493</span>
<span class="t r " style="right:287.70px;top:545px;">51,492</span>
<span class="t r " style="right:215.00px;top:545px;">50,597</span>
<span class="t r " style="right:137.80px;top:545px;">50,198</span>
<span class="t r " style="right:61.20px;top:545px;">49,974</span>
<span class="t l " style="left:122.40px;top:556px;">Three or more qualifying children</span>
<span class="t r " style="right:364.30px;top:556px;color:#f0545a;-webkit-text-stroke-width:0.3px;">55,952</span>
<span class="t r " style="right:287.70px;top:556px;">54,884</span>
<span class="t r " style="right:215.00px;top:556px;">53,930</span>
<span class="t r " style="right:137.80px;top:556px;">53,505</span>
<span class="t r " style="right:61.20px;top:556px;">53,267</span>
<span class="t l b" style="left:100.10px;top:569px;">Maximum amount of credit (all filers except MFS):</span>
<span class="t l " style="left:122.40px;top:579px;">No qualifying children</span>
<span class="t r " style="right:364.30px;top:579px;color:#f0545a;-webkit-text-stroke-width:0.3px;">529</span>
<span class="t l " style="left:356.90px;top:579px;">$</span>
<span class="t r " style="right:287.70px;top:579px;">519</span>
<span class="t l " style="left:434.00px;top:579px;">$</span>
<span class="t r " style="right:215.00px;top:579px;">510</span>
<span class="t l " style="left:506.80px;top:579px;">$</span>
<span class="t r " style="right:137.80px;top:579px;">506</span>
<span class="t l " style="left:583.40px;top:579px;">$</span>
<span class="t r " style="right:61.20px;top:579px;">503</span>
<span class="t l " style="left:659.00px;top:579px;">$</span>
<span class="t l " style="left:122.40px;top:590px;">One qualifying child</span>
<span class="t r " style="right:364.30px;top:590px;color:#f0545a;-webkit-text-stroke-width:0.3px;">3,526</span>
<span class="t r " style="right:287.70px;top:590px;">3,461</span>
<span class="t r " style="right:215.00px;top:590px;">3,400</span>
<span class="t r " style="right:137.80px;top:590px;">3,373</span>
<span class="t r " style="right:61.20px;top:590px;">3,359</span>
<span class="t l " style="left:122.40px;top:600px;">Two qualifying children</span>
<span class="t r " style="right:364.30px;top:600px;color:#f0545a;-webkit-text-stroke-width:0.3px;">5,828</span>
<span class="t r " style="right:287.70px;top:600px;">5,716</span>
<span class="t r " style="right:215.00px;top:600px;">5,616</span>
<span class="t r " style="right:137.80px;top:600px;">5,572</span>
<span class="t r " style="right:61.20px;top:600px;">5,548</span>
<span class="t l " style="left:122.40px;top:611px;">Three or more qualifying children</span>
<span class="t r " style="right:364.30px;top:611px;color:#f0545a;-webkit-text-stroke-width:0.3px;">6,557</span>
<span class="t r " style="right:287.70px;top:611px;">6,431</span>
<span class="t r " style="right:215.00px;top:611px;">6,318</span>
<span class="t r " style="right:137.80px;top:611px;">6,269</span>
<span class="t r " style="right:61.20px;top:611px;">6,242</span>
<span class="t l b" style="left:100.10px;top:624px;">Investment income limit</span>
<span class="t r " style="right:364.30px;top:624px;color:#f0545a;-webkit-text-stroke-width:0.3px;">3,600</span>
<span class="t r " style="right:287.70px;top:624px;">3,500</span>
<span class="t r " style="right:215.00px;top:624px;">3,450</span>
<span class="t r " style="right:137.80px;top:624px;">3,400</span>
<span class="t r " style="right:61.20px;top:624px;">3,400</span>
<span class="t l b" style="left:66.10px;top:637px;">Child tax credit/credit for other dependents:</span>
<span class="t l " style="left:100.10px;top:647px;">Credit per child</span>
<span class="t r " style="right:364.30px;top:647px;color:#f0545a;-webkit-text-stroke-width:0.3px;">2,000</span>
<span class="t l " style="left:357.70px;top:647px;">$</span>
<span class="t r " style="right:287.70px;top:647px;">2,000</span>
<span class="t l " style="left:434.80px;top:647px;">$</span>
<span class="t r " style="right:215.00px;top:647px;">1,000</span>
<span class="t l " style="left:507.50px;top:647px;">$</span>
<span class="t r " style="right:137.80px;top:647px;">1,000</span>
<span class="t l " style="left:584.20px;top:647px;">$</span>
<span class="t r " style="right:59.90px;top:647px;">1,000</span>
<span class="t l " style="left:662.00px;top:647px;">$</span>
<span class="t l " style="left:100.10px;top:658px;">Refundable portion limit</span>
<span class="t r " style="right:364.30px;top:658px;color:#f0545a;-webkit-text-stroke-width:0.3px;">1,400</span>
<span class="t r " style="right:287.70px;top:658px;">1,400</span>
<span class="t r " style="right:215.00px;top:658px;">1,000</span>
<span class="t r " style="right:137.80px;top:658px;">1,000</span>
<span class="t r " style="right:59.90px;top:658px;">1,000</span>
<span class="t l " style="left:100.10px;top:669px;">Refundable child tax credit—earned income floor</span>
<span class="t r " style="right:364.30px;top:669px;color:#f0545a;-webkit-text-stroke-width:0.3px;">2,500</span>
<span class="t r " style="right:287.70px;top:669px;">2,500</span>
<span class="t r " style="right:215.00px;top:669px;">3,000</span>
<span class="t r " style="right:137.80px;top:669px;">3,000</span>
<span class="t r " style="right:59.90px;top:669px;">3,000</span>
<span class="t l " style="left:100.10px;top:679px;">Credit per other dependent</span>
<span class="t r " style="right:364.30px;top:679px;color:#f0545a;-webkit-text-stroke-width:0.3px;">500</span>
<span class="t r " style="right:287.70px;top:679px;">500</span>
<span class="t c " style="left:393.45px;top:679px;">N/A</span>
<span class="t c " style="left:469.95px;top:679px;">N/A</span>
<span class="t c " style="left:546.95px;top:679px;">N/A</span>
<span class="t l b" style="left:66.10px;top:692px;">Adoption credit/exclusion:</span>
<span class="t l b" style="left:100.10px;top:705px;">Maximum credit/exclusion (and amount allowed for</span>
<span class="t l b" style="left:100.10px;top:717px;">adoption of special needs child)</span>
<span class="t r " style="right:364.30px;top:717px;color:#f0545a;-webkit-text-stroke-width:0.3px;">14,080</span>
<span class="t l " style="left:358.70px;top:717px;">$</span>
<span class="t r " style="right:287.70px;top:717px;">13,810</span>
<span class="t l " style="left:438.20px;top:717px;">$</span>
<span class="t r " style="right:213.10px;top:717px;">13,570</span>
<span class="t l " style="left:508.80px;top:717px;">$</span>
<span class="t r " style="right:136.50px;top:717px;">13,460</span>
<span class="t l " style="left:586.00px;top:717px;">$</span>
<span class="t r " style="right:59.90px;top:717px;">13,400</span>
<span class="t l " style="left:662.60px;top:717px;">$</span>
<span class="t l b" style="left:100.10px;top:730px;">Credit/exclusion phase-out begins at AGI of:</span>
<span class="t l " style="left:122.40px;top:740px;">All taxpayers except MFS</span>
<span class="t r " style="right:364.30px;top:741px;color:#f0545a;-webkit-text-stroke-width:0.3px;">211,160</span>
<span class="t l " style="left:359.50px;top:741px;">$</span>
<span class="t r " style="right:287.70px;top:741px;">207,140</span>
<span class="t l " style="left:435.60px;top:741px;">$</span>
<span class="t r " style="right:215.00px;top:741px;">203,540</span>
<span class="t l " style="left:508.30px;top:741px;">$</span>
<span class="t r " style="right:137.80px;top:741px;">201,920</span>
<span class="t l " style="left:585.00px;top:741px;">$</span>
<span class="t r " style="right:59.90px;top:741px;">201,010</span>
<span class="t l " style="left:662.90px;top:741px;">$</span>
<span class="t l " style="left:122.40px;top:751px;">MFS</span>
<span class="t c " style="left:235.30px;top:751px;">Not Allowed</span>
<span class="t c " style="left:312.20px;top:751px;">Not Allowed</span>
<span class="t c " style="left:388.75px;top:751px;">Not Allowed</span>
<span class="t c " style="left:465.25px;top:751px;">Not Allowed</span>
<span class="t c " style="left:542.25px;top:751px;">Not Allowed</span>
<span class="t l b" style="left:66.10px;top:764px;">Kiddie tax unearned income threshold</span>
<span class="t r " style="right:364.30px;top:764px;color:#f0545a;-webkit-text-stroke-width:0.3px;">2,200</span>
<span class="t l " style="left:358.70px;top:764px;">$</span>
<span class="t r " style="right:287.70px;top:764px;">2,100</span>
<span class="t l " style="left:435.60px;top:764px;">$</span>
<span class="t r " style="right:215.00px;top:764px;">2,100</span>
<span class="t l " style="left:508.30px;top:764px;">$</span>
<span class="t r " style="right:137.80px;top:764px;">2,100</span>
<span class="t l " style="left:584.70px;top:764px;">$</span>
<span class="t r " style="right:59.90px;top:764px;">2,100</span>
<span class="t l " style="left:662.00px;top:764px;">$</span>
<span class="t l b" style="left:66.10px;top:777px;">Foreign earned income exclusion</span>
<span class="t r " style="right:364.30px;top:777px;color:#f0545a;-webkit-text-stroke-width:0.3px;">105,900</span>
<span class="t l " style="left:358.70px;top:777px;">$</span>
<span class="t r " style="right:287.70px;top:777px;">103,900</span>
<span class="t l " style="left:435.60px;top:777px;">$</span>
<span class="t r " style="right:215.00px;top:777px;">102,100</span>
<span class="t l " style="left:508.30px;top:777px;">$</span>
<span class="t r " style="right:137.80px;top:777px;">101,300</span>
<span class="t l " style="left:585.50px;top:777px;">$</span>
<span class="t r " style="right:59.90px;top:777px;">100,800</span>
<span class="t l " style="left:662.00px;top:777px;">$</span>
<span class="t c b h2" style="left:245.95px;top:792px;">FICA/SE Taxes</span>
<span class="t l b" style="left:66.10px;top:806px;">Maximum earnings subject to tax:</span>
<span class="t l " style="left:100.10px;top:819px;">Social security tax</span>
<span class="t r " style="right:364.30px;top:819px;">132,900</span>
<span class="t l " style="left:353.50px;top:819px;">$</span>
<span class="t r " style="right:287.70px;top:819px;">128,400</span>
<span class="t l " style="left:440.50px;top:819px;">$</span>
<span class="t r " style="right:215.70px;top:819px;">127,200</span>
<span class="t l " style="left:507.00px;top:819px;">$</span>
<span class="t r " style="right:139.10px;top:819px;">118,500</span>
<span class="t l " style="left:584.20px;top:819px;">$</span>
<span class="t r " style="right:62.50px;top:819px;">118,500</span>
<span class="t l " style="left:661.30px;top:819px;">$</span>
<span class="t l " style="left:100.10px;top:830px;">Medicare tax</span>
<span class="t c " style="left:235.30px;top:830px;">No Limit</span>
<span class="t c " style="left:312.20px;top:830px;">No Limit</span>
<span class="t c " style="left:388.75px;top:830px;">No Limit</span>
<span class="t c " style="left:465.25px;top:830px;">No Limit</span>
<span class="t c " style="left:542.25px;top:830px;">No Limit</span>
<span class="t l b" style="left:66.10px;top:843px;">Maximum tax paid by:</span>
<span class="t l " style="left:100.10px;top:853px;">Employee—social security</span>
<span class="t r " style="right:356.80px;top:853px;">8,239.80</span>
<span class="t l " style="left:353.50px;top:853px;">$</span>
<span class="t r " style="right:280.10px;top:853px;">7,960.80</span>
<span class="t l " style="left:436.60px;top:853px;">$</span>
<span class="t r " style="right:203.50px;top:853px;">7,886.40</span>
<span class="t l " style="left:506.20px;top:853px;">$</span>
<span class="t r " style="right:126.90px;top:853px;">7,347.00</span>
<span class="t l " style="left:582.90px;top:853px;">$</span>
<span class="t r " style="right:50.30px;top:853px;">7,347.00</span>
<span class="t l " style="left:660.00px;top:853px;">$</span>
<span class="t l " style="left:100.10px;top:864px;">Self-employed—social security</span>
<span class="t r " style="right:356.80px;top:864px;">16,479.60</span>
<span class="t r " style="right:280.10px;top:864px;">15,921.60</span>
<span class="t r " style="right:203.50px;top:864px;">15,772.80</span>
<span class="t r " style="right:126.90px;top:864px;">14,694.00</span>
<span class="t r " style="right:50.30px;top:864px;">14,694.00</span>
<span class="t l " style="left:100.10px;top:874px;">Employee or self-employed—Medicare</span>
<span class="t c " style="left:235.30px;top:874px;">No Limit</span>
<span class="t c " style="left:312.20px;top:874px;">No Limit</span>
<span class="t c " style="left:388.75px;top:874px;">No Limit</span>
<span class="t c " style="left:465.25px;top:874px;">No Limit</span>
<span class="t c " style="left:542.25px;top:874px;">No Limit</span>
<span class="t l b" style="left:66.10px;top:887px;">Additional Medicare tax begins at earnings of:</span>
<span class="t l " style="left:100.10px;top:898px;">MFJ</span>
<span class="t r " style="right:364.30px;top:898px;">250,000</span>
<span class="t l " style="left:353.50px;top:898px;">$</span>
<span class="t r " style="right:287.70px;top:898px;">250,000</span>
<span class="t l " style="left:432.70px;top:898px;">$</span>
<span class="t r " style="right:213.10px;top:898px;">250,000</span>
<span class="t l " style="left:507.00px;top:898px;">$</span>
<span class="t r " style="right:137.00px;top:898px;">250,000</span>
<span class="t l " style="left:584.20px;top:898px;">$</span>
<span class="t r " style="right:63.80px;top:898px;">250,000</span>
<span class="t l " style="left:660.00px;top:898px;">$</span>
<span class="t l " style="left:100.10px;top:908px;">Single, HOH or QW</span>
<span class="t r " style="right:364.30px;top:908px;">200,000</span>
<span class="t r " style="right:287.70px;top:908px;">200,000</span>
<span class="t r " style="right:213.10px;top:908px;">200,000</span>
<span class="t r " style="right:137.00px;top:908px;">200,000</span>
<span class="t r " style="right:63.80px;top:908px;">200,000</span>
<span class="t l " style="left:100.10px;top:919px;">MFS</span>
<span class="t r " style="right:364.30px;top:919px;">125,000</span>
<span class="t r " style="right:287.70px;top:919px;">125,000</span>
<span class="t r " style="right:213.10px;top:919px;">125,000</span>
<span class="t r " style="right:137.00px;top:919px;">125,000</span>
<span class="t r " style="right:63.80px;top:919px;">125,000</span>
<div class="ft" style="left:62.6px;top:980.6px;">Replacement Page 1/2019</div>
<div class="ft" style="left:512.8px;top:983.4px;">2018 Tax Year</div>
<div class="ft" style="left:577.4px;top:983.4px;">|</div>
<div class="ft" style="right:67.6px;top:983.4px;">1040 Quickfinder<span style="font-size:5.5px;position:relative;top:-3px;">&reg;</span> Handbook</div>
<div class="ft" style="right:40.4px;top:981.2px;font-size:11.4px;line-height:13px;">3-1</div>
</div>
</body>
</html>
